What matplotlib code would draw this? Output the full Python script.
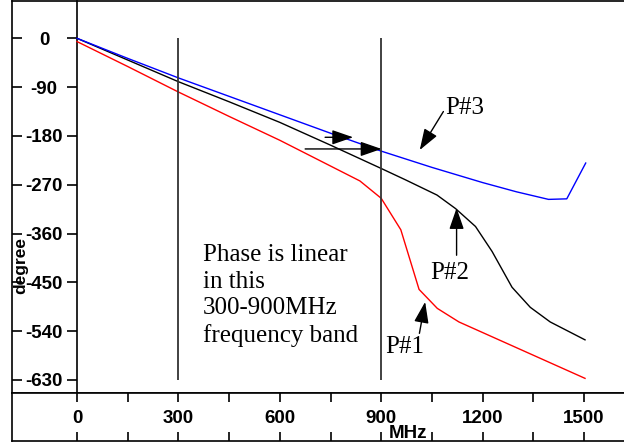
import numpy as np
import matplotlib
matplotlib.use("Agg")
import matplotlib.pyplot as plt

# phase curves (MHz, degree)
p1_mhz = [0, 150, 300, 450, 600, 837, 900, 958, 1012, 1066, 1130, 1503]
p1_deg = [-6, -52, -99, -144, -188, -263, -295, -353, -463, -498, -523, -627]

p2_mhz = [0, 150, 300, 450, 600, 750, 900, 972, 1065, 1120, 1179, 1228, 1287, 1341, 1400, 1503]
p2_deg = [0, -40, -80, -117, -155, -197, -240, -261, -289, -314, -347, -393, -459, -496, -523, -556]

p3_mhz = [0, 150, 300, 450, 600, 750, 900, 1050, 1200, 1300, 1395, 1449, 1505]
p3_deg = [0, -37, -73, -107, -141, -175, -208, -238, -266, -283, -297, -296, -230]

band_mhz = [300, 900]
yticks = [0, -90, -180, -270, -360, -450, -540, -630]
xticks = [0, 300, 600, 900, 1200, 1500]
xminor = [150, 450, 750, 1050, 1350]

W, H = 624, 446
fig = plt.figure(figsize=(W / 100, H / 100), dpi=100)

tickfont = dict(family="Liberation Sans", weight="bold", size=13.5)
serif = dict(family="Liberation Serif", size=18)

ax = fig.add_axes([12 / W, (H - 393) / H, 612 / W, 392 / H])
ax.set_xlim(-192.3, 1618.3)
ax.set_ylim(-654.0, 68.8)
ax.spines["right"].set_visible(False)
for s in ax.spines.values():
    s.set_linewidth(1.2)

ax.plot(p1_mhz, p1_deg, color="#ff0000", lw=1.0)
ax.plot(p2_mhz, p2_deg, color="black", lw=1.0)
ax.plot(p3_mhz, p3_deg, color="#0000ff", lw=1.0)
ax.vlines(band_mhz, -630, 0, color="#333333", lw=1.3)

ax.set_xticks([])
ax.set_yticks(yticks)
ax.set_yticklabels([str(v) for v in yticks], fontdict=tickfont)
ax.tick_params(axis="y", direction="in", length=7.2, width=1.2, pad=-23)
for lbl in ax.get_yticklabels():
    lbl.set_horizontalalignment("center")

# the zero-frequency axis line with its own ticks
sec = ax.secondary_yaxis(65 / 612)
sec.set_alignment("left")
sec.set_yticks(yticks)
sec.tick_params(direction="out", length=7.2, width=1.2, labelleft=False)
sec.spines["left"].set_linewidth(1.2)

ax.set_ylabel("degree", fontdict=dict(family="Liberation Sans", weight="bold", size=12.5))
ax.yaxis.set_label_coords(16 / 612, (393 - 265) / 392)

arrow = dict(arrowstyle="-|>,head_length=1.3,head_width=0.45", color="black",
             lw=1.0, mutation_scale=10, shrinkA=0, shrinkB=0)
ax.annotate("", xy=(817, -182.5), xytext=(734, -182.5), arrowprops=arrow)
ax.annotate("", xy=(901, -204), xytext=(675, -204), arrowprops=arrow)
ax.annotate("", xy=(1014, -206), xytext=(1084, -135), arrowprops=arrow)
ax.annotate("", xy=(1123, -313), xytext=(1123, -400), arrowprops=arrow)
ax.annotate("", xy=(1030, -486), xytext=(1013, -544), arrowprops=arrow)

ax.text(1089, -140, "P#3", va="baseline", ha="left", **serif)
ax.text(1044, -444, "P#2", va="baseline", ha="left", **serif)
ax.text(911, -580, "P#1", va="baseline", ha="left", **serif)
ax.text(372, -560.5, "Phase is linear\nin this\n300-900MHz\nfrequency band",
        va="baseline", ha="left", linespacing=1.28, **serif)

# frequency band under the plot
bx = fig.add_axes([12 / W, 5 / H, 612 / W, 48 / H])
bx.set_xlim(ax.get_xlim())
bx.set_ylim(0, 1)
bx.spines["right"].set_visible(False)
for s in bx.spines.values():
    s.set_linewidth(1.2)
bx.set_yticks([])
bx.set_xticks(xticks)
bx.set_xticks(xminor, minor=True)
bx.set_xticklabels([str(v) for v in xticks], fontdict=tickfont)
bx.tick_params(axis="x", which="both", direction="in", length=6.5, width=1.2,
               top=True, bottom=True, pad=-22)
bx.text(979, 0.16, "MHz", ha="center", va="center",
        fontdict=dict(family="Liberation Sans", weight="bold", size=13.5))

fig.savefig("out.png", dpi=100)
